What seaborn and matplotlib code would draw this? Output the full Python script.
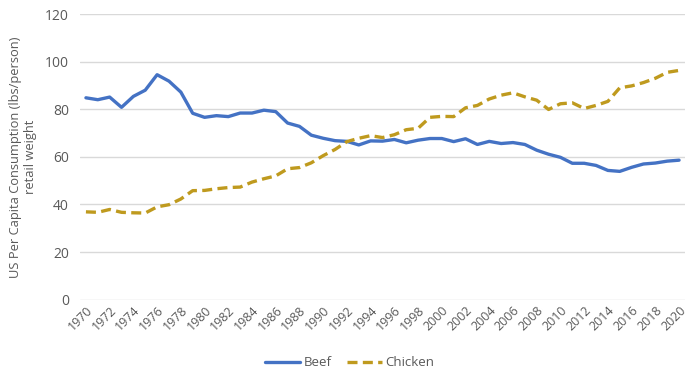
import numpy as np
import pandas as pd
import matplotlib
matplotlib.use("Agg")
import matplotlib.pyplot as plt
import seaborn as sns
from matplotlib.lines import Line2D

years = list(range(1970, 2021))
beef = [84.8, 84.0, 85.1, 80.8, 85.4, 88.0, 94.5, 91.8, 87.2, 78.3, 76.6, 77.3, 76.9, 78.4, 78.4, 79.6, 79.0, 74.2, 72.8, 69.1,
        67.8, 66.8, 66.5, 65.0, 66.7, 66.6, 67.3, 65.9, 67.0, 67.7, 67.7, 66.4, 67.6, 65.2, 66.5, 65.6, 66.0, 65.2, 62.8, 61.1,
        59.8, 57.3, 57.3, 56.4, 54.3, 53.9, 55.6, 57.0, 57.4, 58.2, 58.6]
chicken = [36.9, 36.7, 37.9, 36.7, 36.5, 36.4, 39.0, 39.9, 42.3, 45.8, 45.9, 46.6, 47.1, 47.3, 49.4, 50.8, 52.0, 55.0, 55.5, 57.5,
           60.5, 63.1, 66.4, 67.8, 68.9, 68.1, 69.3, 71.4, 72.0, 76.6, 77.0, 76.9, 80.6, 81.6, 84.3, 85.9, 86.9, 85.2, 83.8, 79.9,
           82.3, 82.7, 80.3, 81.6, 83.3, 89.0, 89.8, 91.2, 93.0, 95.5, 96.3]
series_names = ["Beef", "Chicken"]
ylabel = "US Per Capita Consumption (lbs/person)\nretail weight"

df = pd.DataFrame({
    "Year": years * 2,
    "Value": beef + chicken,
    "Series": [series_names[0]] * len(years) + [series_names[1]] * len(years),
})

sns.set_theme(style="white")
plt.rcParams["font.family"] = ["Open Sans", "DejaVu Sans"]

fig = plt.figure(figsize=(7, 3.8), dpi=100)
ax = fig.add_axes([80/700, 80.3/380, 605/700, 285.7/380])

palette = {"Beef": "#4472C4", "Chicken": "#BF9A1E"}
sns.lineplot(data=df, x="Year", y="Value", hue="Series", style="Series",
             dashes={"Beef": "", "Chicken": (3, 1.6)}, palette=palette,
             linewidth=2.4, ax=ax, legend=False)

ax.set_xlim(1969.5, 2020.5)
ax.set_ylim(0, 120)
ax.set_yticks(range(0, 121, 20))
ax.set_xticks(range(1970, 2021, 2))
ax.set_xticklabels([str(y) for y in range(1970, 2021, 2)], rotation=45,
                   ha="right", rotation_mode="anchor", fontsize=9, color="#595959")
ax.tick_params(axis="y", labelsize=10, colors="#595959", length=0, pad=8)
ax.tick_params(axis="x", length=0, pad=3)
ax.grid(axis="y", color="#D9D9D9", linewidth=1)
for s in ax.spines.values():
    s.set_visible(False)
ax.set_xlabel("")
ax.set_ylabel(ylabel, fontsize=9.3, color="#595959", labelpad=6)
ax.yaxis.label.set_multialignment("center")

handles = [Line2D([], [], color=palette["Beef"], lw=2.4),
           Line2D([], [], color=palette["Chicken"], lw=2.4, ls=(0, (3, 1.6)))]
fig.legend(handles, series_names, loc="center", bbox_to_anchor=(0.5, 0.045), ncol=2,
           frameon=False, fontsize=9.5, handlelength=2.6, columnspacing=1.2,
           handletextpad=0.3, labelcolor="#595959")

fig.savefig("out.png", dpi=100, facecolor="white")
